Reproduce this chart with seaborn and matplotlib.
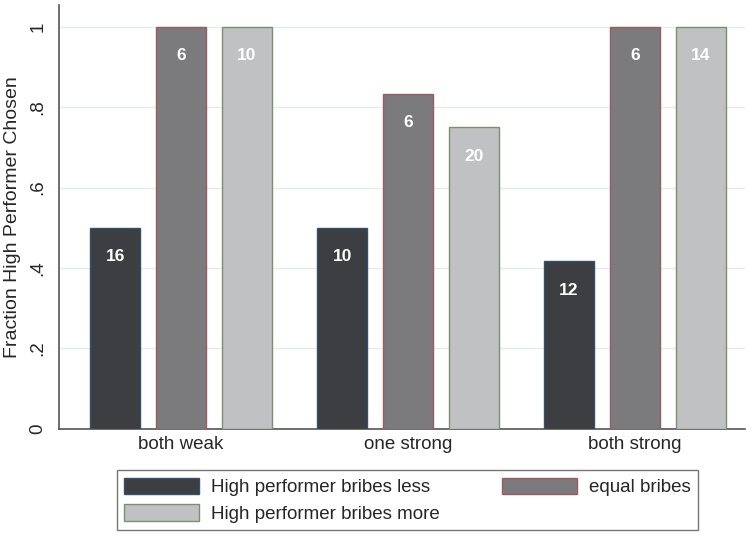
import pandas as pd
import matplotlib.pyplot as plt
import seaborn as sns

groups = ['both weak', 'one strong', 'both strong']
conditions = ['High performer bribes less', 'equal bribes', 'High performer bribes more']
less = [0.5, 0.5, 0.4167]
equal = [1.0, 0.8333, 1.0]
more = [1.0, 0.75, 1.0]
counts_less = [16, 10, 12]
counts_equal = [6, 6, 6]
counts_more = [10, 20, 14]

fills = ['#3c3e42', '#7b7b7d', '#c0c1c3']
edges = ['#34506e', '#9a5a60', '#7d8f6a']

df = pd.DataFrame({
    'group': groups * 3,
    'condition': [c for c in conditions for _ in groups],
    'value': less + equal + more,
    'n': counts_less + counts_equal + counts_more,
})

sns.set_style('white')
plt.rcParams['font.family'] = ['Liberation Sans', 'DejaVu Sans']

fig = plt.figure(figsize=(7.48, 5.36), dpi=100)
ax = fig.add_axes([0.079, 0.2, 0.917, 0.79])

sns.barplot(
    data=df,
    x='group',
    y='value',
    hue='condition',
    order=groups,
    hue_order=conditions,
    palette=fills,
    width=0.87,
    gap=0.24,
    saturation=1,
    legend=False,
    zorder=3,
    ax=ax
)

# edge colours + count labels inside the top of each bar
for cont, ec, cond in zip(ax.containers, edges, conditions):
    sub = df[df['condition'] == cond].set_index('group').loc[groups]
    for bar, n in zip(cont, sub['n']):
        bar.set_edgecolor(ec)
        bar.set_linewidth(1)
        ax.text(
            bar.get_x() + bar.get_width() / 2,
            bar.get_height() - 0.072,
            str(n),
            ha='center', va='center',
            color='white', fontweight='bold', fontsize=12.5
        )

ax.set_ylim(0, 1.053)
ax.set_xlim(-0.537, 2.485)
ax.set_yticks([0, 0.2, 0.4, 0.6, 0.8, 1])
ax.set_yticklabels(['0', '.2', '.4', '.6', '.8', '1'], rotation=90, va='center')
ax.grid(axis='y', color='#e4ecf0', linewidth=1, zorder=0)
ax.set_axisbelow(True)

for s in ['top', 'right']:
    ax.spines[s].set_visible(False)
for s in ['left', 'bottom']:
    ax.spines[s].set_color('#555555')
    ax.spines[s].set_linewidth(1.2)

ax.tick_params(axis='y', length=5, color='#555555', labelsize=13.5, pad=4)
ax.tick_params(axis='x', length=0, labelsize=13.5, pad=5)
ax.set_xlabel('')
ax.set_ylabel('Fraction High Performer Chosen', fontsize=14, labelpad=6)

handles = [plt.Rectangle((0, 0), 1, 1, facecolor=f, edgecolor=e) for f, e in zip(fills, edges)]
order = [0, 2, 1]
leg = fig.legend(
    [handles[i] for i in order],
    [conditions[i] for i in order],
    ncol=2,
    loc='center',
    bbox_to_anchor=(0.545, 0.067),
    fontsize=13.5,
    frameon=True,
    fancybox=False,
    handlelength=4.0,
    handleheight=1.0,
    columnspacing=3.3,
    labelspacing=0.4,
    borderpad=0.4,
    handletextpad=0.64,
)
leg.get_frame().set_edgecolor('#555555')
leg.get_frame().set_linewidth(1)

fig.savefig('out.png', dpi=100)
